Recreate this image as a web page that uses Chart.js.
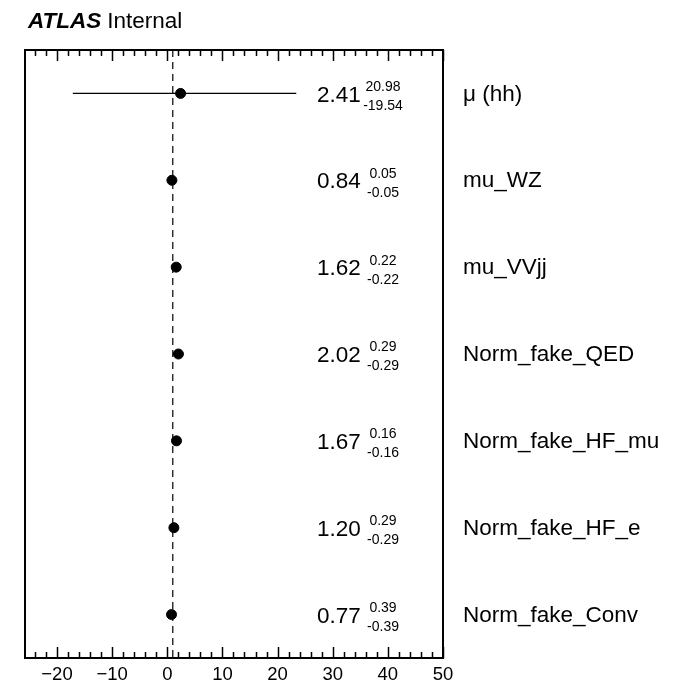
<!DOCTYPE html>
<html>
<head>
<meta charset="utf-8">
<script src="https://cdn.jsdelivr.net/npm/chart.js@4.4.1/dist/chart.umd.min.js"></script>
<style>
  html, body { margin: 0; padding: 0; background: #fff; }
  #wrap { width: 687px; height: 683px; position: relative; }
</style>
</head>
<body>
<div id="wrap"><canvas id="c" width="687" height="683"></canvas></div>
<script>
// ---- data ----
const parameters = ["μ (hh)", "mu_WZ", "mu_VVjj", "Norm_fake_QED", "Norm_fake_HF_mu", "Norm_fake_HF_e", "Norm_fake_Conv"];
const fitValues  = [2.41, 0.84, 1.62, 2.02, 1.67, 1.20, 0.77];
const errUp      = [20.98, 0.05, 0.22, 0.29, 0.16, 0.29, 0.39];
const errDown    = [19.54, 0.05, 0.22, 0.29, 0.16, 0.29, 0.39];
const xTickLabels = [-20, -10, 0, 10, 20, 30, 40, 50];
const xMinorStep = 2;
const xMin = -25.8, xMax = 50;
const referenceLine = 1;

const FONT = '"Liberation Sans", Arial, Helvetica, sans-serif';

const pointData = fitValues.map((v, i) => ({ x: v, y: i + 0.5 }));
const errorDatasets = fitValues.map((v, i) => ({
  type: 'line',
  data: [{ x: v - errDown[i], y: i + 0.5 }, { x: v + errUp[i], y: i + 0.5 }],
  borderColor: '#000', borderWidth: 1.2, pointRadius: 0, fill: false, order: 2
}));

const framePlugin = {
  id: 'frame',
  afterDatasetsDraw(chart) {
    const { ctx, chartArea: a, scales } = chart;
    const xs = scales.x, ys = scales.y;
    ctx.save();
    // minor & major ticks (inward, top and bottom)
    ctx.strokeStyle = '#000';
    ctx.lineWidth = 1.5;
    const start = Math.ceil(xMin / xMinorStep) * xMinorStep;
    for (let v = start; v <= xMax + 1e-9; v += xMinorStep) {
      const px = Math.round(xs.getPixelForValue(v)) + 0.5;
      const major = xTickLabels.includes(v);
      const len = major ? 11 : 6;
      ctx.beginPath();
      ctx.moveTo(px, a.bottom); ctx.lineTo(px, a.bottom - len);
      ctx.moveTo(px, a.top); ctx.lineTo(px, a.top + len);
      ctx.stroke();
    }
    // frame
    ctx.lineWidth = 2;
    ctx.strokeRect(a.left, a.top, a.right - a.left, a.bottom - a.top);

    // value texts and labels
    ctx.fillStyle = '#000';
    fitValues.forEach((v, i) => {
      const py = ys.getPixelForValue(i + 0.5);
      ctx.font = '22.5px ' + FONT;
      ctx.textAlign = 'left';
      ctx.textBaseline = 'middle';
      ctx.fillText(v.toFixed(2), a.right - 126, py + 2);
      ctx.font = '14px ' + FONT;
      ctx.textAlign = 'center';
      ctx.fillText(errUp[i].toFixed(2), a.right - 60, py - 6.5);
      ctx.fillText('-' + errDown[i].toFixed(2), a.right - 60, py + 12.5);
      ctx.font = '22.5px ' + FONT;
      ctx.textAlign = 'left';
      ctx.fillText(parameters[i], a.right + 20, py + 1);
    });

    // ATLAS Internal
    ctx.textBaseline = 'alphabetic';
    ctx.textAlign = 'left';
    ctx.font = 'italic bold 22.5px ' + FONT;
    ctx.fillText('ATLAS', 28, 28);
    const w = ctx.measureText('ATLAS').width;
    ctx.font = '22.5px ' + FONT;
    ctx.fillText('Internal', 28 + w + 6, 28);
    ctx.restore();
  }
};

new Chart(document.getElementById('c'), {
  type: 'scatter',
  data: {
    datasets: [
      {
        type: 'scatter',
        data: pointData,
        backgroundColor: '#000', borderColor: '#000',
        pointRadius: 5, pointHoverRadius: 5, order: 0
      },
      ...errorDatasets,
      {
        type: 'line',
        data: [{ x: referenceLine, y: 0 }, { x: referenceLine, y: parameters.length }],
        borderColor: '#000', borderWidth: 1.2, borderDash: [7, 5],
        pointRadius: 0, fill: false, order: 3
      }
    ]
  },
  options: {
    responsive: false,
    animation: false,
    events: [],
    layout: { padding: { left: 25, right: 244, top: 50, bottom: 0 } },
    plugins: { legend: { display: false }, tooltip: { enabled: false } },
    scales: {
      x: {
        type: 'linear',
        min: xMin, max: xMax,
        afterBuildTicks: (s) => { s.ticks = xTickLabels.map(v => ({ value: v })); },
        afterFit: (s) => { s.height = 25; },
        grid: { display: false, drawTicks: false },
        border: { display: false },
        ticks: {
          color: '#000',
          padding: 6,
          font: { family: FONT, size: 18.5 },
          callback: (v) => String(v).replace('-', '\u2212')
        }
      },
      y: {
        type: 'linear',
        min: 0, max: parameters.length,
        reverse: true,
        display: false
      }
    }
  },
  plugins: [framePlugin]
});
</script>
</body>
</html>
